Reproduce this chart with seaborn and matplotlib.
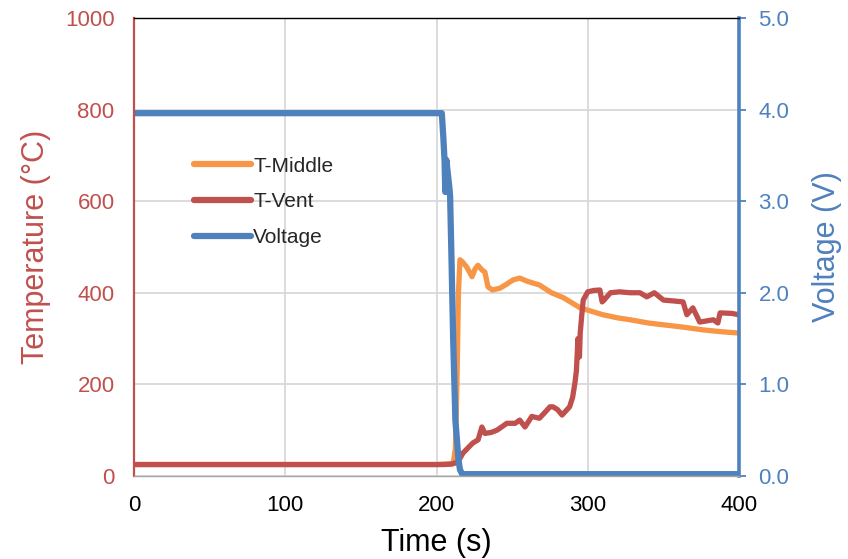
import matplotlib
matplotlib.use("Agg")
import matplotlib.pyplot as plt
import seaborn as sns
import numpy as np

# ---- data ----
volt_t = [0, 203.5, 204.5, 205.3, 205.8, 206.5, 207.5, 208.5, 209.0, 210.0, 211.0, 212.0,
          212.5, 213.5, 214.5, 215.5, 217.0, 220.0, 250.0, 300.0, 350.0, 400.0]
volt_v = [3.96, 3.96, 3.70, 3.45, 3.10, 3.45, 3.30, 3.15, 3.05, 2.30, 1.50, 0.90,
          0.60, 0.40, 0.18, 0.07, 0.02, 0.02, 0.02, 0.02, 0.02, 0.02]

mid_t = [0, 200, 211, 212.5, 213.5, 214.5, 215.5, 217, 220, 223.5, 225.5, 227.4, 230, 232,
         234, 237, 242, 246, 250.6, 255, 260, 268, 276, 284, 290, 295, 302, 310, 320, 328,
         340, 350, 363, 376, 388, 400]
mid_v = [25, 25, 27, 60, 200, 400, 472, 468, 456, 435, 452, 460, 450, 445,
         413, 406, 410, 418, 428, 432, 425, 417, 400, 389, 377, 367, 360, 352, 345, 341,
         334, 330, 325, 319, 315, 312]

vent_t = [0, 205, 210, 214, 217.5, 221, 224, 227.5, 230, 232, 236, 240, 246.5, 252, 255,
          258.5, 263, 268, 272, 275, 277, 280, 283, 288, 290, 291.5, 292.5, 293.5, 294.5,
          295, 296, 297, 300, 304, 308, 309.5, 311, 315, 321, 328, 334.5, 339, 344, 350,
          357, 363, 365.5, 369.5, 374, 383, 386, 387.5, 395, 400]
vent_v = [25, 25, 26, 30, 50, 62, 72, 79, 107, 93, 95, 100, 115, 115, 122,
          107, 130, 126, 140, 151, 151, 145, 133, 151, 172, 203, 230, 300, 260,
          312, 350, 384, 402, 405, 406, 380, 385, 400, 402, 400, 400, 391, 400, 384,
          382, 380, 352, 367, 336, 341, 334, 356, 355, 352]

x_ticks = [0, 100, 200, 300, 400]
t_ticks = [0, 200, 400, 600, 800, 1000]
v_ticks = [0.0, 1.0, 2.0, 3.0, 4.0, 5.0]

C_ORANGE = "#F79646"
C_RED = "#C0504D"
C_BLUE = "#4F81BD"
C_GRID = "#D9D9D9"

sns.set_style("white")
plt.rcParams["font.family"] = ["Liberation Sans", "DejaVu Sans"]

fig = plt.figure(figsize=(8.48, 5.59), dpi=100)
ax = fig.add_axes([0.158, 0.1485, 0.7135, 0.8195])
ax2 = ax.twinx()

sns.lineplot(x=mid_t, y=mid_v, ax=ax, color=C_ORANGE, linewidth=3.8, legend=False,
             solid_capstyle="butt")
sns.lineplot(x=vent_t, y=vent_v, ax=ax, color=C_RED, linewidth=3.8, legend=False,
             solid_capstyle="butt")
sns.lineplot(x=volt_t, y=volt_v, ax=ax2, color=C_BLUE, linewidth=4.5, legend=False,
             solid_capstyle="butt")

ax.set_xlim(0, 400)
ax.set_ylim(0, 1000)
ax2.set_ylim(0, 5)
ax.set_xticks(x_ticks)
ax.set_yticks(t_ticks)
ax2.set_yticks(v_ticks)
ax2.set_yticklabels([f"{v:.1f}" for v in v_ticks])

ax.grid(True, color=C_GRID, linewidth=1.3)
ax2.grid(False)
ax.set_axisbelow(True)

ax.tick_params(axis="x", length=0, labelsize=16, colors="black", pad=14)
ax.tick_params(axis="y", length=0, labelsize=16, labelcolor=C_RED, pad=14)
ax2.tick_params(axis="y", length=5, width=1.3, direction="out", color=C_BLUE,
                labelsize=16, labelcolor=C_BLUE, pad=9)

ax.set_xlabel("Time (s)", fontsize=22, color="black", labelpad=8)
ax.set_ylabel("Temperature (\u00b0C)", fontsize=22, color=C_RED, labelpad=10)
ax2.set_ylabel("Voltage (V)", fontsize=22, color=C_BLUE, labelpad=16)

for sp in ["left", "right", "top", "bottom"]:
    ax.spines[sp].set_visible(False)
ax2.spines["left"].set_visible(True)
ax2.spines["left"].set_color(C_RED)
ax2.spines["left"].set_linewidth(1.6)
ax2.spines["top"].set_visible(True)
ax2.spines["top"].set_color("black")
ax2.spines["top"].set_linewidth(1.0)
ax2.spines["bottom"].set_visible(True)
ax2.spines["bottom"].set_color("#A6A6A6")
ax2.spines["bottom"].set_linewidth(1.0)
ax2.spines["right"].set_color(C_BLUE)
ax2.spines["right"].set_linewidth(2.6)

handles = [ax.lines[0], ax.lines[1], ax2.lines[0]]
labels = ["T-Middle", "T-Vent", "Voltage"]
leg = ax2.legend(handles, labels, loc="upper left", bbox_to_anchor=(0.085, 0.715),
                 frameon=False, fontsize=15, handlelength=2.75, handletextpad=0.1,
                 labelspacing=0.8, borderaxespad=0)
for lh in leg.get_lines():
    lh.set_linewidth(4.5)
    lh.set_solid_capstyle("round")

fig.savefig("out.png", dpi=100)
